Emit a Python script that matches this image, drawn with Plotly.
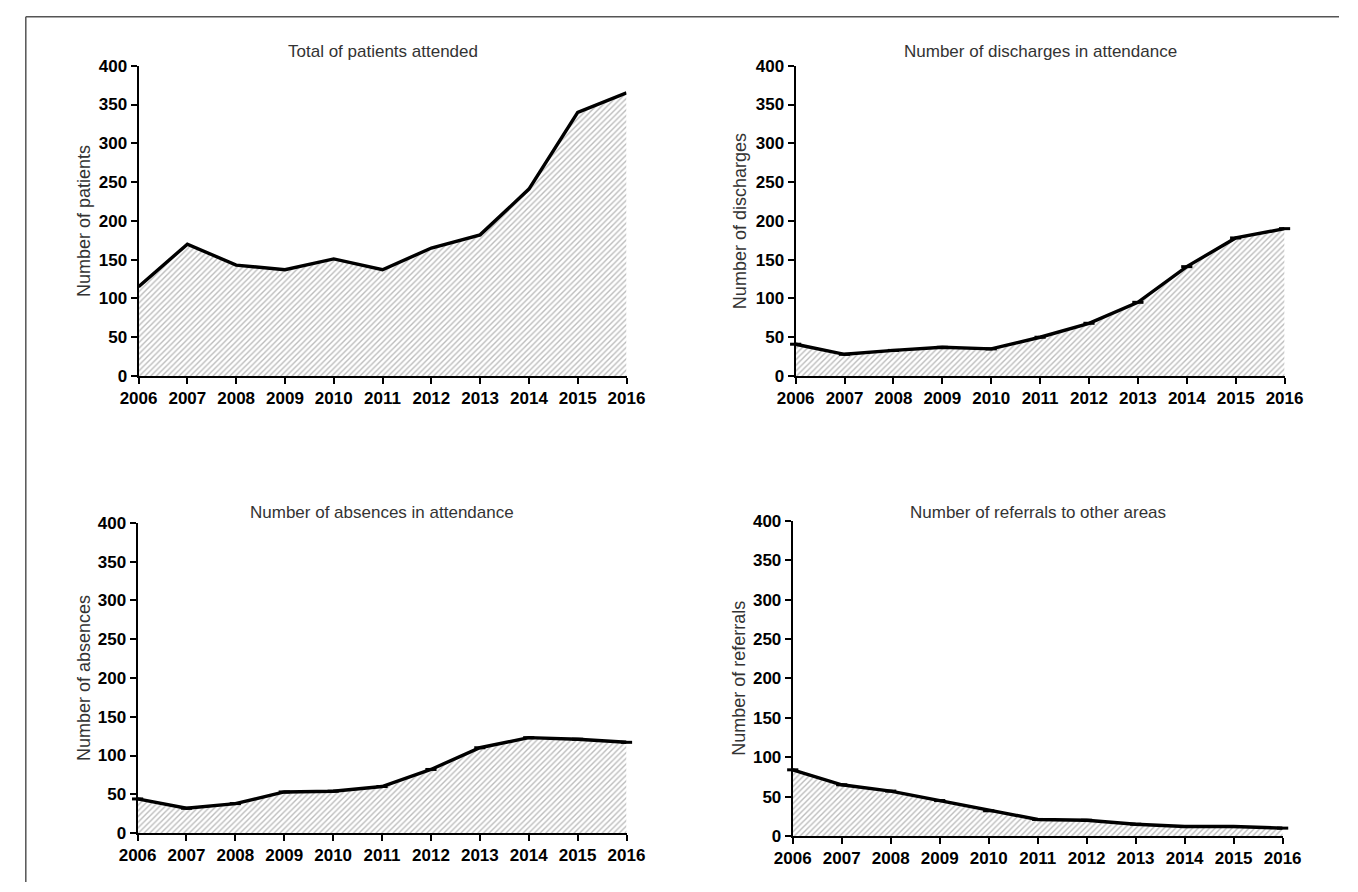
import plotly.graph_objects as go

# Yearly service statistics, 2006-2016
years = [2006, 2007, 2008, 2009, 2010, 2011, 2012, 2013, 2014, 2015, 2016]
patients = [115, 170, 143, 137, 151, 137, 165, 182, 241, 340, 365]
discharges = [41, 28, 33, 37, 35, 50, 68, 95, 141, 178, 190]
absences = [44, 32, 38, 53, 54, 60, 82, 110, 123, 121, 117]
referrals = [84, 65, 57, 45, 32, 21, 20, 15, 12, 12, 10]

titles = [
    "Total of patients attended",
    "Number of discharges in attendance",
    "Number of absences in attendance",
    "Number of referrals to other areas",
]
ytitles = [
    "Number of patients",
    "Number of discharges",
    "Number of absences",
    "Number of referrals",
]
y_ticks = [0, 50, 100, 150, 200, 250, 300, 350, 400]

W, H = 1358, 892

# panel boxes in pixels: (left, right, top, bottom)
panels = [
    (123, 625, 58, 375),
    (799, 1302, 58, 375),
    (122, 625, 525, 842),
    (796, 1300, 523, 845),
]
series = [patients, discharges, absences, referrals]
show_marks = [False, True, True, True]
title_y = [43, 43, 514, 514]
ytitle_x = [67, 742, 67, 741]

TICK_FONT = dict(family="Liberation Sans, Arial, sans-serif", size=17, color="black")
TEXT_FONT = "Liberation Sans, Arial, sans-serif"

fig = go.Figure()
layout = dict(
    width=W, height=H,
    margin=dict(l=0, r=0, t=0, b=0),
    paper_bgcolor="white", plot_bgcolor="white",
    showlegend=False,
    annotations=[], shapes=[],
)

for i, ((l, r, t, b), vals) in enumerate(zip(panels, series)):
    n = i + 1
    xa = "x" if n == 1 else f"x{n}"
    ya = "y" if n == 1 else f"y{n}"
    fig.add_trace(go.Scatter(
        x=years, y=vals, xaxis=xa, yaxis=ya,
        mode="lines+markers" if show_marks[i] else "lines",
        line=dict(color="black", width=3.4),
        marker=dict(symbol="line-ew", size=8, line=dict(color="black", width=3)),
        fill="tozeroy",
        fillcolor="rgba(0,0,0,0)",
        fillpattern=dict(shape="/", size=4, solidity=0.35,
                         fgcolor="#7a7a7a", bgcolor="white"),
        cliponaxis=False,
        hoverinfo="skip",
    ))
    key_x = "xaxis" if n == 1 else f"xaxis{n}"
    key_y = "yaxis" if n == 1 else f"yaxis{n}"
    layout[key_x] = dict(
        domain=[l / W, r / W], anchor=ya,
        range=[2006, 2016], tickmode="array", tickvals=years,
        ticktext=[str(y) for y in years],
        showgrid=False, zeroline=False,
        showline=True, linecolor="black", linewidth=2,
        ticks="outside", ticklen=6, tickwidth=2, tickcolor="black",
        tickfont=dict(TICK_FONT, weight="bold"),
    )
    layout[key_y] = dict(
        domain=[1 - b / H, 1 - t / H], anchor=xa,
        range=[0, 400], tickmode="array", tickvals=y_ticks,
        showgrid=False, zeroline=False,
        showline=True, linecolor="black", linewidth=2,
        ticks="outside", ticklen=6, tickwidth=2, tickcolor="black",
        tickfont=dict(TICK_FONT, weight="bold"),
    )
    # panel heading
    layout["annotations"].append(dict(
        text=titles[i], xref="paper", yref="paper",
        x=(l + r) / 2 / W, y=1 - title_y[i] / H,
        xanchor="center", yanchor="middle", showarrow=False,
        font=dict(family=TEXT_FONT, size=17, color="#333333"),
    ))
    # y-axis caption
    layout["annotations"].append(dict(
        text=ytitles[i], xref="paper", yref="paper",
        x=ytitle_x[i] / W, y=1 - (t + b) / 2 / H,
        xanchor="center", yanchor="middle", textangle=-90, showarrow=False,
        font=dict(family=TEXT_FONT, size=18, color="#333333"),
    ))

# outer frame (left and top edges visible)
layout["shapes"] = [
    dict(type="line", xref="paper", yref="paper",
         x0=7 / W, x1=7 / W, y0=0, y1=1 - 8 / H,
         line=dict(color="#555555", width=1.5)),
    dict(type="line", xref="paper", yref="paper",
         x0=7 / W, x1=1, y0=1 - 8 / H, y1=1 - 8 / H,
         line=dict(color="#555555", width=1.5)),
]

fig.update_layout(**layout)
fig.write_html("out.html")
